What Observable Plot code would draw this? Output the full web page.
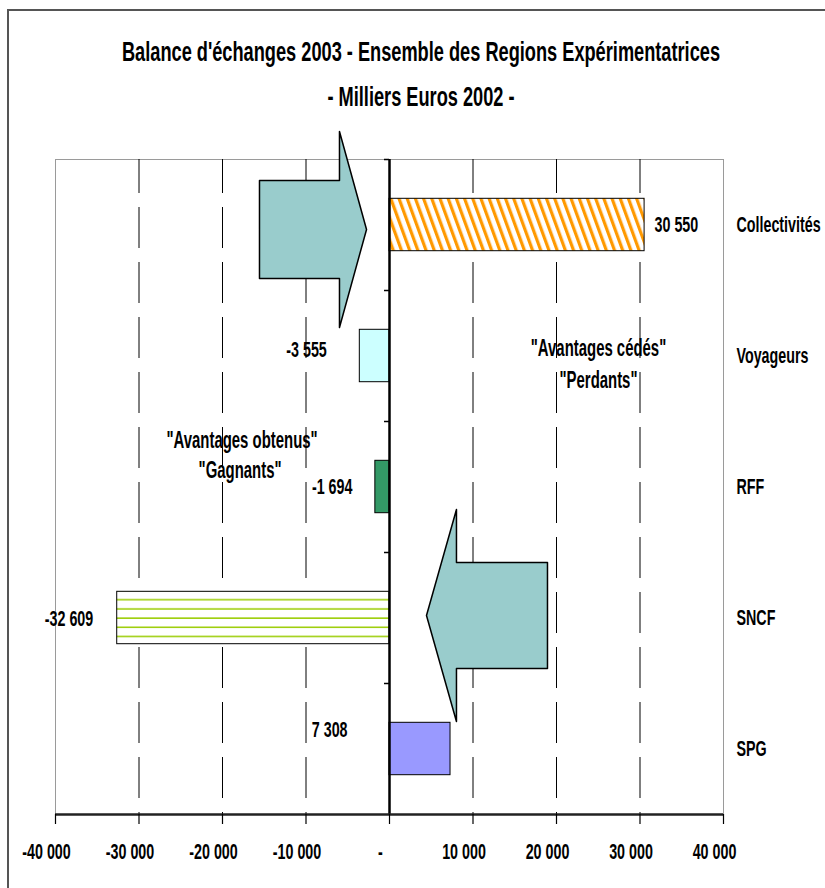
<!DOCTYPE html>
<html>
<head>
<meta charset="utf-8">
<script src="https://cdn.jsdelivr.net/npm/d3@7"></script>
<script src="https://cdn.jsdelivr.net/npm/@observablehq/plot@0.6"></script>
<style>
  html, body { margin: 0; padding: 0; background: #fff; }
  #page { position: relative; width: 825px; height: 888px; overflow: hidden; font-family: "Liberation Sans", Arial, sans-serif; }
  #border { position: absolute; left: 7px; top: 9px; width: 900px; height: 900px; border-left: 2px solid #555; border-top: 2px solid #555; }
  #titles { position: relative; height: 120px; }
  .t { position: absolute; left: 421px; white-space: nowrap; font-weight: bold; font-size: 28px; line-height: 28px; transform: translateX(-50%) scaleX(0.65); transform-origin: center; color: #000; }
  #chart { position: relative; }
</style>
</head>
<body>
<svg width="0" height="0" style="position:absolute">
  <defs>
    <pattern id="hatchOrange" patternUnits="userSpaceOnUse" width="7.7" height="7.7" patternTransform="rotate(-20)">
      <rect width="7.7" height="7.7" fill="#ffffff"/>
      <rect x="0" y="0" width="3.2" height="7.7" fill="#FF9900"/>
    </pattern>
    <pattern id="stripesGreen" patternUnits="userSpaceOnUse" width="10" height="9.2" y="0">
      <rect width="10" height="9.2" fill="#ffffff"/>
      <rect x="0" y="7.7" width="10" height="2" fill="#99CC00"/>
    </pattern>
  </defs>
</svg>
<div id="page">
  <div id="border"></div>
  <div id="titles">
    <div class="t" style="top:38px">Balance d'échanges 2003 - Ensemble des Regions Expérimentatrices</div>
    <div class="t" style="top:83px">- Milliers Euros 2002 -</div>
  </div>
  <div id="chart"></div>
</div>
<script>
// ---- data ----
const categories = ["Collectivités", "Voyageurs", "RFF", "SNCF", "SPG"];
const values = [30550, -3555, -1694, -32609, 7308];
const xTicks = [-40000, -30000, -20000, -10000, 0, 10000, 20000, 30000, 40000];
const gridTicks = [-30000, -20000, -10000, 10000, 20000, 30000];
const barFills = ["url(#hatchOrange)", "#CCFFFF", "#339966", "url(#stripesGreen)", "#9999FF"];
const notesText = ['"Avantages cédés"', '"Perdants"', '"Avantages obtenus"', '"Gagnants"'];
const notesX = [25030, 25030, -17660, -17900];
const notesY = [0.943, 1.187, 1.645, 1.874];
// arrow outlines (x in milliers d'euros, y in category index units)
const arrowInX = [-15570, -5990, -5990, -2750, -5990, -5990, -15570];
const arrowInY = [-0.340, -0.340, -0.714, 0.034, 0.782, 0.408, 0.408];
const arrowOutX = [4430, 8020, 8020, 18920, 18920, 8020, 8020];
const arrowOutY = [2.981, 2.172, 2.576, 2.576, 3.385, 3.385, 3.790];

// ---- derived tables ----
const rows = categories.map((c, i) => ({cat: c, value: values[i], i, fill: barFills[i]}));
const notes = notesText.map((t, k) => ({t, x: notesX[k], y: notesY[k]}));
const arrowIn = arrowInX.map((x, k) => ({x, y: arrowInY[k]}));
const arrowOut = arrowOutX.map((x, k) => ({x, y: arrowOutY[k]}));

const loc = d3.formatLocale({decimal: ",", thousands: " ", grouping: [3], currency: ["", ""], minus: "-"});
const f = loc.format(",d");
const fmt = d => d === 0 ? "-" : f(d);

// label placement (style only)
const nudge = {
  "Collectivités": {anchor: "start", dx: 10, dy: 0},
  "Voyageurs": {anchor: "end", dx: -33, dy: -6},
  "RFF": {anchor: "end", dx: -23, dy: 0},
  "SNCF": {anchor: "end", dx: -24, dy: 1},
  "SPG": {anchor: "end", dx: -103, dy: -19}
};
const half = 0.2;
const squeeze = 0.635;

const plot = Plot.plot({
  width: 825,
  height: 768,
  marginTop: 39,
  marginBottom: 74,
  marginLeft: 55,
  marginRight: 102,
  x: {domain: [-40000, 40000], axis: null},
  y: {domain: [-0.5, 4.5], reverse: true, axis: null},
  style: {fontFamily: '"Liberation Sans", Arial, sans-serif', fontWeight: "bold", fontSize: "22.5px", color: "#000", background: "transparent", overflow: "visible"},
  marks: [
    Plot.frame({stroke: "#9a9a9a", strokeWidth: 1}),
    Plot.ruleX(gridTicks, {stroke: "#000", strokeWidth: 1, strokeDasharray: "41,14", strokeDashoffset: 7}),
    ...rows.map(r => Plot.rect([r], {
      x1: 0, x2: "value",
      y1: d => d.i - half, y2: d => d.i + half,
      fill: r.fill, stroke: "#000", strokeWidth: 1
    })),
    Plot.ruleX([0], {stroke: "#000", strokeWidth: 2.5}),
    Plot.ruleY([-0.5, 0.5, 1.5, 2.5, 3.5], {x1: 0, x2: 0, insetLeft: -5, stroke: "#000", strokeWidth: 1.5}),
    Plot.ruleY([4.5], {stroke: "#222", strokeWidth: 2.5}),
    Plot.ruleX(xTicks, {y1: 4.5, y2: 4.5, insetBottom: -10, stroke: "#000", strokeWidth: 1.2}),
    Plot.text(xTicks, {x: d => d, y: 4.5, dy: 37, dx: -9, text: fmt}),
    Plot.text(rows, {x: 40000, y: "i", dx: 13, textAnchor: "start", text: "cat"}),
    Plot.line(arrowIn, {x: "x", y: "y", curve: "linear-closed", fill: "#99CCCC", stroke: "#000", strokeWidth: 1.5}),
    Plot.line(arrowOut, {x: "x", y: "y", curve: "linear-closed", fill: "#99CCCC", stroke: "#000", strokeWidth: 1.5}),
    ...rows.map(r => Plot.text([r], {
      x: "value", y: "i", text: d => fmt(d.value),
      textAnchor: nudge[r.cat].anchor, dx: nudge[r.cat].dx, dy: nudge[r.cat].dy
    })),
    Plot.text(notes, {x: "x", y: "y", text: "t", fontSize: 23.5})
  ]
});

document.getElementById("chart").appendChild(plot);

// align green stripes with SNCF bar top
const ys = plot.scale("y");
const sncfTop = ys.apply(3 - half);
document.getElementById("stripesGreen").setAttribute("y", sncfTop);

// condensed (narrow) look of the original typeface: horizontal scale around each text's anchor
plot.querySelectorAll("text").forEach(t => {
  let tr = t.getAttribute("transform");
  if (!tr) {
    const x = +(t.getAttribute("x") || 0), y = +(t.getAttribute("y") || 0);
    t.removeAttribute("x"); t.removeAttribute("y");
    tr = `translate(${x},${y})`;
  }
  t.setAttribute("transform", tr + ` scale(${squeeze},1)`);
});
</script>
</body>
</html>
